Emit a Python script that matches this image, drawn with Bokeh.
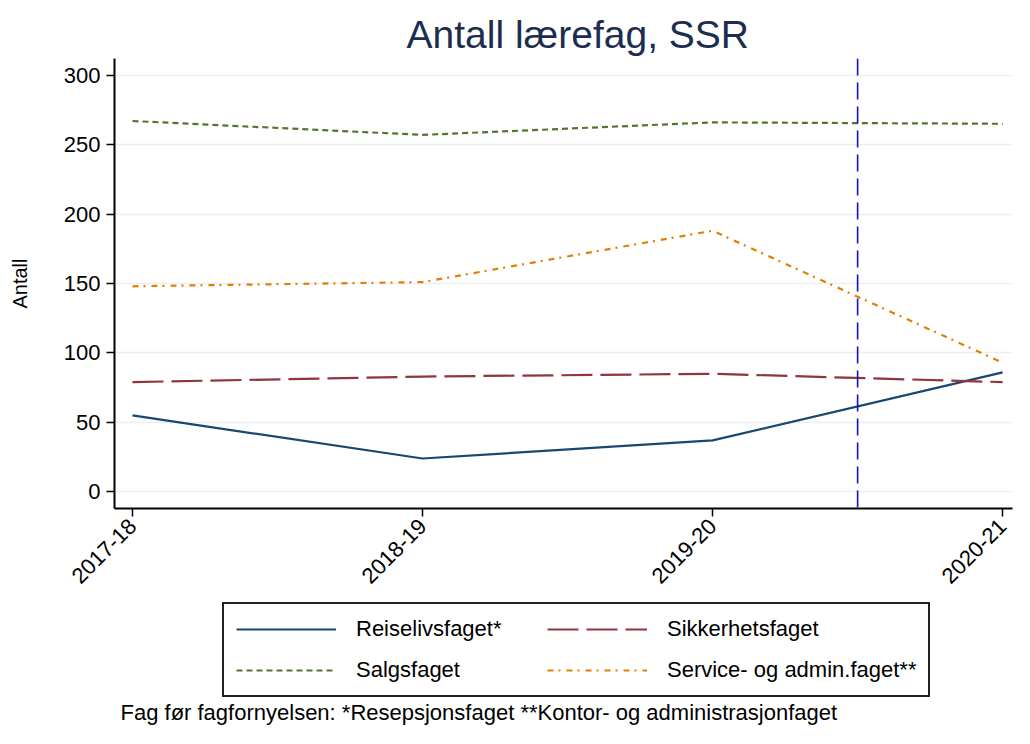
from bokeh.plotting import figure
from bokeh.layouts import column
from bokeh.models import (Span, Legend, LegendItem, FixedTicker, CustomJSTickFormatter,
                          Range1d)
from bokeh.core.properties import value
from bokeh.embed import file_html
from bokeh.resources import INLINE
import math

# ---- data ----
years = ["2017-18", "2018-19", "2019-20", "2020-21"]
reiseliv = [55, 24, 37, 86]
sikkerhet = [79, 83, 85, 79]
salg = [267, 257, 266, 265]
service = [148, 151, 188, 93]
reform_pos = 2.5
y_ticks = [0, 50, 100, 150, 200, 250, 300]
series_names = ["Reiselivsfaget*", "Sikkerhetsfaget", "Salgsfaget", "Service- og admin.faget**"]
footnote = "Fag før fagfornyelsen: *Resepsjonsfaget **Kontor- og administrasjonfaget"

xs = list(range(len(years)))
FONT = "Liberation Sans"
styles = [dict(line_color="#1a476f", line_width=2.2),
          dict(line_color="#90353b", line_width=2.2, line_dash="31 8"),
          dict(line_color="#55752f", line_width=2.2, line_dash="6 4"),
          dict(line_color="#e37e00", line_width=2.2, line_dash="6 5 2 6")]

p = figure(width=1014, height=594, output_backend="svg", toolbar_location=None,
           x_range=Range1d(-0.062, 3.034), y_range=Range1d(-12, 312),
           min_border_left=114, min_border_right=2, min_border_top=58,
           min_border_bottom=86)
p.outline_line_color = None
p.background_fill_color = "white"
p.border_fill_color = "white"

p.title.text = "Antall lærefag, SSR"
p.title.align = "left"
p.title.text_font = FONT
p.title.text_font_size = "39px"
p.title.text_font_style = "normal"
p.title.text_color = "#1c2d4f"
p.title.offset = 292
p.title.standoff = 6

p.xgrid.grid_line_color = None
p.ygrid.grid_line_color = "#e8f0f2"
p.ygrid.grid_line_width = 1.5

p.yaxis.ticker = FixedTicker(ticks=y_ticks)
p.yaxis.axis_label = "Antall"
p.yaxis.axis_label_text_font = FONT
p.yaxis.axis_label_text_font_size = "20px"
p.yaxis.axis_label_text_font_style = "normal"
p.yaxis.axis_label_text_color = "black"
p.yaxis.axis_label_standoff = 30
p.xaxis.ticker = FixedTicker(ticks=xs)
p.xaxis.formatter = CustomJSTickFormatter(args=dict(labels=years),
                                          code="return labels[Math.round(tick)] || ''")
p.xaxis.major_label_orientation = math.pi / 4
for ax in (p.xaxis, p.yaxis):
    ax.major_label_text_font = FONT
    ax.major_label_text_font_size = "22px"
    ax.major_label_text_color = "black"
    ax.axis_line_color = "black"
    ax.axis_line_width = 2
    ax.major_tick_line_color = "black"
    ax.major_tick_line_width = 1.5
    ax.major_tick_in = 0
    ax.major_tick_out = 8
    ax.minor_tick_line_color = None
p.yaxis.major_label_standoff = 6
p.xaxis.major_label_standoff = 6

for vals, st in zip([reiseliv, sikkerhet, salg, service], styles):
    p.line(xs, vals, **st)

p.add_layout(Span(location=reform_pos, dimension="height", line_color="#1010c8",
                  line_width=1.6, line_dash="17 7"))

# ---- bottom panel with legend and footnote (data units = page pixels) ----
b = figure(width=1014, height=134, output_backend="svg", toolbar_location=None,
           x_range=Range1d(114, 1012), y_range=Range1d(728, 594),
           min_border_left=114, min_border_right=2, min_border_top=0, min_border_bottom=0)
b.axis.visible = False
b.grid.visible = False
b.outline_line_color = None
b.border_fill_color = "white"
b.background_fill_color = "white"

# legend proxies (kept outside the visible range)
dummies = [b.line([-1000, -900], [-1000, -1000], **st) for st in styles]
order = [0, 2, 1, 3]
legend = Legend(items=[LegendItem(label=series_names[i], renderers=[dummies[i]]) for i in order],
                location=(108, 31), nrows=2, orientation="vertical")
legend.label_text_font = FONT
legend.label_text_font_size = "22px"
legend.label_text_color = "black"
legend.label_width = 176
legend.glyph_width = 100
legend.glyph_height = 22
legend.label_standoff = 20
legend.spacing = 15
legend.padding = 12
legend.margin = 0
legend.border_line_color = "#222222"
legend.border_line_alpha = 1.0
legend.border_line_width = 2
legend.background_fill_alpha = 1
legend.background_fill_color = "white"
b.add_layout(legend, "center")

b.text(x=[120], y=[712], text=[footnote], text_font=value(FONT), text_font_size="22px",
       text_color="black", text_baseline="middle", text_align="left")

layout = column(p, b, spacing=0)
open("out.html", "w").write(file_html(layout, INLINE))
